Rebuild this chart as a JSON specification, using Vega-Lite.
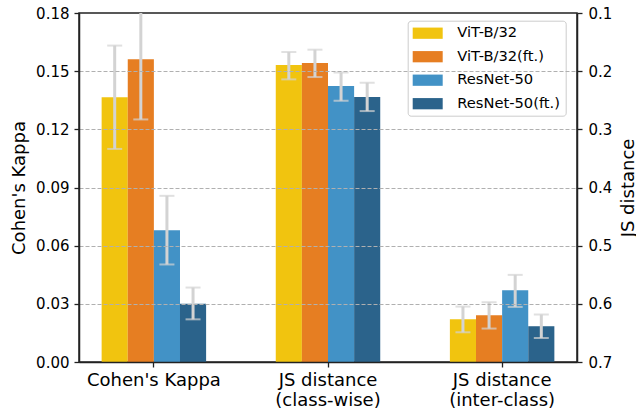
{
  "$schema": "https://vega.github.io/schema/vega-lite/v6.json",
  "width": 498,
  "height": 349,
  "autosize": {"type": "none"},
  "padding": {"left": 79, "top": 13, "right": 59, "bottom": 50},
  "background": "white",
  "config": {
    "font": "DejaVu Sans",
    "view": {"stroke": "#222222", "strokeWidth": 1.5},
    "axis": {
      "labelFont": "DejaVu Sans",
      "titleFont": "DejaVu Sans",
      "labelColor": "#000000",
      "titleColor": "#000000",
      "titleFontWeight": "normal",
      "domainColor": "#222222",
      "domainWidth": 1.5,
      "tickColor": "#222222",
      "tickWidth": 1.3,
      "tickSize": 5
    }
  },
  "data": {
    "values": [
      {"metric": "Cohen's Kappa", "side": "L", "model": "ViT-B/32", "value": 0.1366, "lo": 0.1099, "hi": 0.1632},
      {"metric": "Cohen's Kappa", "side": "L", "model": "ViT-B/32(ft.)", "value": 0.1562, "lo": 0.1251, "hi": 0.1873},
      {"metric": "Cohen's Kappa", "side": "L", "model": "ResNet-50", "value": 0.068, "lo": 0.0503, "hi": 0.0857},
      {"metric": "Cohen's Kappa", "side": "L", "model": "ResNet-50(ft.)", "value": 0.0301, "lo": 0.022, "hi": 0.0384},
      {"metric": "JS distance|(class-wise)", "side": "R", "model": "ViT-B/32", "value": 0.1895, "lo": 0.1671, "hi": 0.2141},
      {"metric": "JS distance|(class-wise)", "side": "R", "model": "ViT-B/32(ft.)", "value": 0.186, "lo": 0.1631, "hi": 0.2101},
      {"metric": "JS distance|(class-wise)", "side": "R", "model": "ResNet-50", "value": 0.2256, "lo": 0.2021, "hi": 0.2509},
      {"metric": "JS distance|(class-wise)", "side": "R", "model": "ResNet-50(ft.)", "value": 0.2445, "lo": 0.2199, "hi": 0.2686},
      {"metric": "JS distance|(inter-class)", "side": "R", "model": "ViT-B/32", "value": 0.6265, "lo": 0.6047, "hi": 0.6489},
      {"metric": "JS distance|(inter-class)", "side": "R", "model": "ViT-B/32(ft.)", "value": 0.6196, "lo": 0.5973, "hi": 0.6425},
      {"metric": "JS distance|(inter-class)", "side": "R", "model": "ResNet-50", "value": 0.5766, "lo": 0.5502, "hi": 0.6053},
      {"metric": "JS distance|(inter-class)", "side": "R", "model": "ResNet-50(ft.)", "value": 0.6385, "lo": 0.6184, "hi": 0.6587}
    ]
  },
  "encoding": {
    "x": {
      "field": "metric",
      "type": "nominal",
      "title": null,
      "scale": {
        "domain": ["Cohen's Kappa", "JS distance|(class-wise)", "JS distance|(inter-class)"],
        "paddingInner": 0.4,
        "paddingOuter": 0.13
      },
      "axis": {
        "labelExpr": "split(datum.label, '|')",
        "labelAngle": 0,
        "labelFontSize": 18,
        "labelLineHeight": 20,
        "labelPadding": 4,
        "tickSize": 5,
        "zindex": 1
      }
    },
    "xOffset": {
      "field": "model",
      "type": "nominal",
      "scale": {
        "domain": ["ViT-B/32", "ViT-B/32(ft.)", "ResNet-50", "ResNet-50(ft.)"],
        "paddingInner": 0,
        "paddingOuter": 0
      }
    }
  },
  "layer": [
    {
      "transform": [{"filter": "datum.side == 'L'"}],
      "layer": [
        {
          "mark": {"type": "bar"},
          "encoding": {
            "y": {
              "field": "value",
              "type": "quantitative",
              "scale": {"domain": [0, 0.18], "nice": false, "zero": true},
              "axis": {
                "orient": "left",
                "values": [0, 0.03, 0.06, 0.09, 0.12, 0.15, 0.18],
                "format": ".2f",
                "labelFontSize": 15,
                "labelPadding": 5,
                "grid": true,
                "gridColor": "#b0b0b0",
                "gridDash": [4, 2],
                "gridWidth": 1,
                "gridOpacity": {"condition": {"test": "datum.value < 0.001 || datum.value > 0.179", "value": 0}, "value": 1},
                "zindex": 1,
                "title": "Cohen's Kappa",
                "titleFontSize": 18,
                "titleAngle": 270,
                "titleX": -60,
                "titleY": 174.5,
                "titleAlign": "center",
                "titleBaseline": "middle"
              }
            },
            "color": {
              "field": "model",
              "type": "nominal",
              "scale": {
                "domain": ["ViT-B/32", "ViT-B/32(ft.)", "ResNet-50", "ResNet-50(ft.)"],
                "range": ["#f1c40f", "#e67e22", "#4292c6", "#2b638b"]
              },
              "legend": {
                "orient": "none",
                "legendX": 328.7,
                "legendY": 7.7,
                "title": null,
                "symbolType": "M-2,-0.75H2V0.75H-2Z",
                "symbolSize": 225,
                "symbolOffset": 7.5,
                "symbolStrokeWidth": 0,
                "symbolOpacity": 1,
                "labelFontSize": 14.7,
                "labelFont": "DejaVu Sans",
                "labelColor": "#000000",
                "labelOffset": 22,
                "rowPadding": 7.5,
                "padding": 5,
                "strokeColor": "#cccccc",
                "fillColor": "white",
                "cornerRadius": 3
              }
            }
          }
        },
        {
          "mark": {"type": "rule", "color": "#d3d3d3", "strokeWidth": 3, "clip": true},
          "encoding": {
            "y": {"field": "lo", "type": "quantitative"},
            "y2": {"field": "hi"}
          }
        },
        {
          "mark": {"type": "tick", "color": "#d3d3d3", "thickness": 2, "size": 15, "clip": true},
          "encoding": {"y": {"field": "lo", "type": "quantitative"}}
        },
        {
          "mark": {"type": "tick", "color": "#d3d3d3", "thickness": 2, "size": 15, "clip": true},
          "encoding": {"y": {"field": "hi", "type": "quantitative"}}
        }
      ]
    },
    {
      "transform": [{"filter": "datum.side == 'R'"}],
      "layer": [
        {
          "mark": {"type": "bar"},
          "encoding": {
            "y": {
              "field": "value",
              "type": "quantitative",
              "scale": {"domain": [0.1, 0.7], "nice": false, "zero": false, "reverse": true},
              "axis": {
                "orient": "right",
                "values": [0.1, 0.2, 0.3, 0.4, 0.5, 0.6, 0.7],
                "format": ".1f",
                "labelFontSize": 15,
                "labelPadding": 6,
                "grid": false,
                "zindex": 1,
                "title": "JS distance",
                "titleFontSize": 18,
                "titleAngle": 270,
                "titleX": 51,
                "titleY": 174.5,
                "titleAlign": "center",
                "titleBaseline": "middle"
              }
            },
            "y2": {"datum": 0.7},
            "color": {"field": "model", "type": "nominal"}
          }
        },
        {
          "mark": {"type": "rule", "color": "#d3d3d3", "strokeWidth": 3, "clip": true},
          "encoding": {
            "y": {"field": "lo", "type": "quantitative"},
            "y2": {"field": "hi"}
          }
        },
        {
          "mark": {"type": "tick", "color": "#d3d3d3", "thickness": 2, "size": 15, "clip": true},
          "encoding": {"y": {"field": "lo", "type": "quantitative"}}
        },
        {
          "mark": {"type": "tick", "color": "#d3d3d3", "thickness": 2, "size": 15, "clip": true},
          "encoding": {"y": {"field": "hi", "type": "quantitative"}}
        }
      ]
    }
  ],
  "resolve": {"scale": {"y": "independent"}}
}
